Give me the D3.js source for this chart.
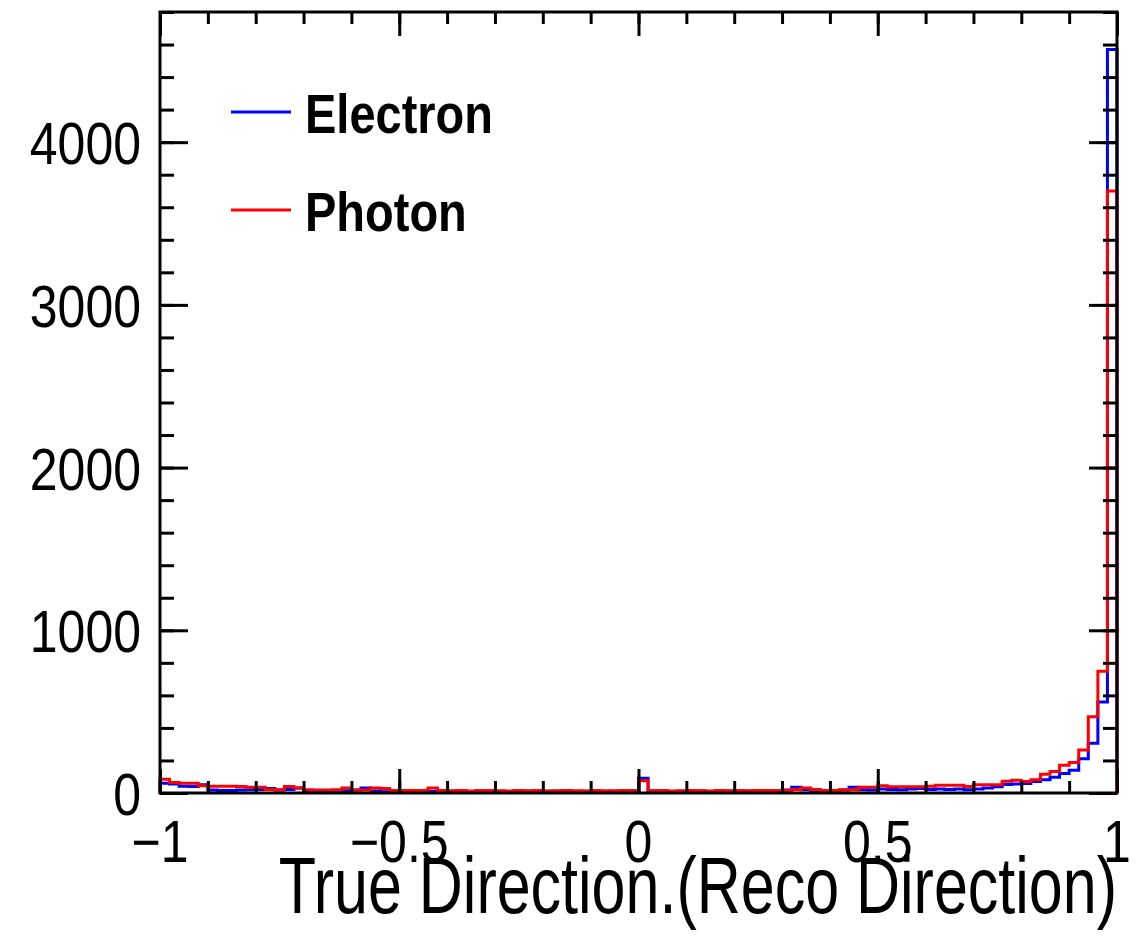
<!DOCTYPE html>
<html lang="en">
  <head>
    <meta charset="UTF-8" />
    <title>True Direction . Reco Direction</title>
    <style>
      body {
        margin: 0;
        background: #fff;
      }
      svg {
        display: block;
        font-family: "Liberation Sans", Arial, sans-serif;
      }
      .tick line {
        stroke: #000;
        stroke-width: 3;
      }
    </style>
  </head>
  <body>
    <svg width="1145" height="943"></svg>
    <script src="https://d3js.org/d3.v7.min.js"></script>
    <script>
      // histogram: 100 bins over [-1, 1]
      const xRange = [-1, 1];
      const nBins = 100;

      const electronCounts = [
        60, 55, 42, 40, 50, 18, 15, 15, 18, 20,
        22, 28, 18, 22, 30, 15, 12, 15, 10, 14,
        18, 30, 12, 8, 14, 12, 15, 16, 10, 12,
        10, 12, 9, 11, 13, 10, 8, 12, 10, 9,
        11, 10, 12, 9, 10, 11, 9, 12, 10, 14,
        90, 12, 10, 9, 11, 10, 12, 9, 10, 11,
        12, 10, 13, 11, 12, 18, 35, 20, 15, 12,
        15, 18, 35, 20, 18, 25, 22, 20, 25, 28,
        22, 25, 22, 25, 20, 25, 30, 38, 52, 55,
        58, 70, 82, 97, 120, 140, 210, 305, 560, 4570,
      ];

      const photonCounts = [
        85, 65, 60, 60, 45, 42, 42, 42, 40, 35,
        35, 22, 20, 40, 30, 20, 18, 18, 20, 30,
        18, 18, 30, 28, 15, 15, 15, 15, 30, 15,
        14, 15, 13, 15, 16, 14, 13, 15, 14, 15,
        13, 14, 15, 14, 13, 15, 14, 13, 15, 14,
        75, 14, 15, 13, 14, 15, 14, 13, 15, 14,
        15, 14, 15, 16, 15, 15, 22, 30, 22, 15,
        15, 20, 20, 35, 35, 45, 38, 38, 38, 38,
        42, 48, 48, 48, 40, 50, 50, 50, 72, 78,
        70, 82, 115, 132, 170, 188, 265, 468, 748, 3700,
      ];

      const seriesNames = ["Electron", "Photon"];
      const seriesColors = ["#0000ff", "#ff0000"];

      const xTicks = [-1, -0.5, 0, 0.5, 1];
      const yTicks = [0, 1000, 2000, 3000, 4000];
      const yMax = 4800;

      const xTitle = "True Direction.(Reco Direction)";

      // text in the original is stretched vertically
      const stretch = 1.17;

      const svg = d3.select("svg");
      const frame = { left: 160, right: 1117, top: 12, bottom: 793 };

      const x = d3.scaleLinear().domain(xRange).range([frame.left, frame.right]);
      const y = d3.scaleLinear().domain([0, yMax]).range([frame.bottom, frame.top]);

      const edges = d3.range(nBins + 1).map(
        (i) => xRange[0] + (i * (xRange[1] - xRange[0])) / nBins
      );

      function stepPath(counts) {
        const pts = [[x(edges[0]), y(0)]];
        counts.forEach((c, i) => {
          pts.push([x(edges[i]), y(c)]);
          pts.push([x(edges[i + 1]), y(c)]);
        });
        pts.push([x(edges[nBins]), y(0)]);
        return d3.line()(pts);
      }

      // histograms
      [electronCounts, photonCounts].forEach((counts, k) => {
        svg
          .append("path")
          .attr("d", stepPath(counts))
          .attr("fill", "none")
          .attr("stroke", seriesColors[k])
          .attr("stroke-width", 3)
          .attr("stroke-linejoin", "miter");
      });

      // ticks (ROOT style, pointing inward on all four sides)
      const xMinor = d3.range(-10, 11).map((d) => d / 10);
      const yMinor = d3.range(0, yMax + 1, 200);

      function addAxis(axis, transform) {
        const g = svg.append("g").attr("transform", transform).call(axis);
        g.select(".domain").remove();
        g.selectAll("text").remove();
      }

      addAxis(d3.axisBottom(x).tickValues(xMinor).tickSize(-12), `translate(0,${frame.bottom})`);
      addAxis(d3.axisBottom(x).tickValues(xTicks).tickSize(-24), `translate(0,${frame.bottom})`);
      addAxis(d3.axisTop(x).tickValues(xMinor).tickSize(-12), `translate(0,${frame.top})`);
      addAxis(d3.axisTop(x).tickValues(xTicks).tickSize(-24), `translate(0,${frame.top})`);
      addAxis(d3.axisLeft(y).tickValues(yMinor).tickSize(-14), `translate(${frame.left},0)`);
      addAxis(d3.axisLeft(y).tickValues(yTicks).tickSize(-28), `translate(${frame.left},0)`);
      addAxis(d3.axisRight(y).tickValues(yMinor).tickSize(-14), `translate(${frame.right},0)`);
      addAxis(d3.axisRight(y).tickValues(yTicks).tickSize(-28), `translate(${frame.right},0)`);

      // frame
      svg
        .append("rect")
        .attr("x", frame.left)
        .attr("y", frame.top)
        .attr("width", frame.right - frame.left)
        .attr("height", frame.bottom - frame.top)
        .attr("fill", "none")
        .attr("stroke", "#000")
        .attr("stroke-width", 3);

      function stretchedText(tx, ty, str, size, anchor, weight, sy) {
        svg
          .append("text")
          .attr("transform", `translate(${tx},${ty}) scale(1,${sy || stretch})`)
          .attr("text-anchor", anchor)
          .attr("font-size", size)
          .attr("font-weight", weight || "normal")
          .attr("fill", "#000")
          .text(str);
      }

      const fmt = d3.format("");
      xTicks.forEach((d) => stretchedText(x(d), frame.bottom + 69, fmt(d), 50, "middle"));
      yTicks.forEach((d) => stretchedText(frame.left - 19, y(d) + 22, fmt(d), 50, "end"));

      stretchedText(frame.right, 913, xTitle, 61, "end", "normal", 1.3);

      // legend
      const legendY = [112, 210];
      seriesNames.forEach((name, k) => {
        svg
          .append("line")
          .attr("x1", 231)
          .attr("x2", 291)
          .attr("y1", legendY[k])
          .attr("y2", legendY[k])
          .attr("stroke", seriesColors[k])
          .attr("stroke-width", 3);
        stretchedText(305, legendY[k] + 21, name, 47, "start", "bold");
      });
    </script>
  </body>
</html>
